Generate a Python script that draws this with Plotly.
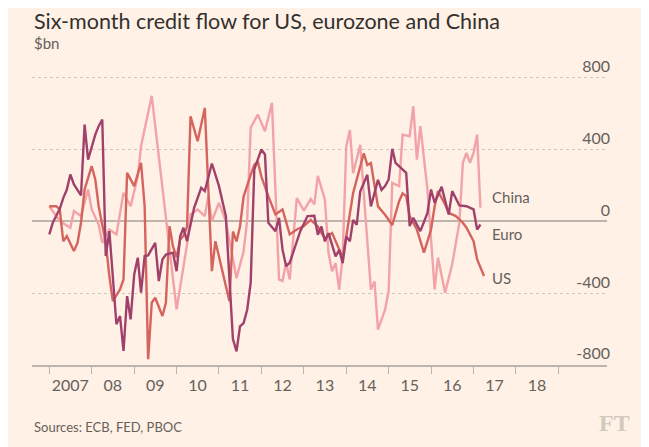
import plotly.graph_objects as go

# Six-month credit flow, $bn
euro_dates = ["2007-01", "2007-02", "2007-03", "2007-04", "2007-05", "2007-06", "2007-07", "2007-08", "2007-10", "2007-11",
              "2007-12", "2008-02", "2008-03", "2008-04", "2008-05", "2008-06", "2008-08", "2008-09", "2008-10", "2008-11",
              "2008-12", "2009-01", "2009-02", "2009-03", "2009-04", "2009-05", "2009-07", "2009-08", "2009-09", "2009-10",
              "2009-12", "2010-01", "2010-02", "2010-03", "2010-04", "2010-06", "2010-08", "2010-09", "2010-11", "2011-01",
              "2011-03", "2011-05", "2011-06", "2011-07", "2011-08", "2011-09", "2011-10", "2011-11", "2011-12", "2012-01",
              "2012-02", "2012-03", "2012-05", "2012-06", "2012-07", "2012-08", "2012-09", "2012-11", "2012-12", "2013-02",
              "2013-04", "2013-05", "2013-06", "2013-07", "2013-08", "2013-10", "2013-11", "2013-12", "2014-01", "2014-02",
              "2014-03", "2014-04", "2014-05", "2014-07", "2014-08", "2014-09", "2014-10", "2014-11", "2014-12", "2015-01",
              "2015-02", "2015-03", "2015-06", "2015-07", "2015-08", "2015-10", "2015-12", "2016-01", "2016-02", "2016-04",
              "2016-06", "2016-07", "2016-09", "2016-11", "2017-01", "2017-02", "2017-03"]
euro_vals = [-72, -5, 30, 70, 130, 178, 262, 206, 145, 540,
             345, 484, 531, 568, -193, -54, -573, -527, -722, -416,
             -546, -295, -202, -397, -193, -189, -119, -332, -212, -184,
             -174, -277, -82, -35, -110, 76, 187, 169, 323, 197,
             30, -655, -724, -585, -566, -492, -341, 290, 345, 401,
             373, -7, -54, 20, -156, -249, -230, -119, -54, 30,
             32, -74, -28, -111, -65, -195, -158, -232, -84, -111,
             9, -19, 167, 260, 84, 158, 232, 176, 197, 234,
             405, 327, 271, -26, 20, -54, 48, 178, 104, 193,
             39, 169, 89, 85, 67, -45, -17]

us_dates = ["2007-01", "2007-03", "2007-04", "2007-05", "2007-06", "2007-08", "2007-09", "2007-10", "2007-11", "2008-01",
            "2008-02", "2008-03", "2008-05", "2008-06", "2008-07", "2008-09", "2008-10", "2008-11", "2009-01", "2009-03",
            "2009-04", "2009-05", "2009-06", "2009-07", "2009-09", "2009-10", "2009-11", "2009-12", "2010-01", "2010-02",
            "2010-03", "2010-04", "2010-05", "2010-07", "2010-09", "2010-11", "2010-12", "2011-04", "2011-05", "2011-06",
            "2011-07", "2011-08", "2011-10", "2011-11", "2011-12", "2012-01", "2012-03", "2012-05", "2012-07", "2012-08",
            "2012-09", "2012-11", "2013-01", "2013-03", "2013-05", "2013-06", "2013-07", "2013-09", "2013-11", "2013-12",
            "2014-01", "2014-03", "2014-05", "2014-06", "2014-07", "2014-08", "2014-10", "2014-12", "2015-02", "2015-04",
            "2015-05", "2015-06", "2015-07", "2015-09", "2015-11", "2016-01", "2016-02", "2016-03", "2016-05", "2016-06",
            "2016-08", "2016-10", "2016-11", "2017-01", "2017-02", "2017-04"]
us_vals = [85, 85, 67, -110, -82, -165, -119, -7, 178, 308,
           234, 85, -119, -304, -444, -379, -323, 271, 197, 327,
           85, -768, -453, -425, -527, -453, -26, -139, -200, -100,
           -80, -30, 586, 447, 633, -277, -110, -445, -56, -111,
           -28, 139, 260, 315, 334, 250, 141, 39, 67, -7,
           -72, -45, -26, 9, -28, -65, -93, -65, -150, -200,
           -84, 158, 306, 380, 315, 325, 84, 37, -20, 113,
           156, 141, 30, -45, -174, -45, 85, 169, 95, 48,
           30, -7, -35, -110, -212, -304]

china_dates = ["2007-01", "2007-02", "2007-04", "2007-07", "2007-08", "2007-10", "2007-12", "2008-01", "2008-03", "2008-04",
               "2008-06", "2008-08", "2008-10", "2008-12", "2009-02", "2009-03", "2009-06", "2010-01", "2010-04", "2010-05",
               "2010-07", "2010-09", "2010-10", "2010-11", "2011-01", "2011-03", "2011-06", "2011-08", "2011-09", "2011-10",
               "2011-12", "2012-02", "2012-04", "2012-06", "2012-07", "2012-08", "2012-09", "2012-11", "2013-01", "2013-03",
               "2013-04", "2013-05", "2013-07", "2013-08", "2013-09", "2013-10", "2013-11", "2013-12", "2014-01", "2014-02",
               "2014-03", "2014-05", "2014-06", "2014-08", "2014-09", "2014-10", "2014-12", "2015-01", "2015-02", "2015-04",
               "2015-05", "2015-07", "2015-08", "2015-09", "2015-10", "2015-12", "2016-02", "2016-03", "2016-05", "2016-07",
               "2016-09", "2016-10", "2016-11", "2016-12", "2017-01", "2017-02", "2017-03"]
china_vals = [85, 58, 2, -35, 58, 30, 178, 67, -17, -119,
              -45, -72, 160, 85, 252, 420, 700, -490, -128, 39,
              67, 30, 141, 2, 104, 2, -316, -167, 9, 522,
              596, 503, 661, -323, -332, -230, -323, 130, 60, 125,
              95, 254, 121, -176, -278, -232, -380, -195, 418, 510,
              269, 427, 139, -380, -334, -603, -492, -388, 215, 197,
              484, 475, 642, 345, 531, 178, -379, -202, -397, -239,
              -7, 327, 382, 327, 382, 484, 76]

year_starts = [f"{y}-01-01" for y in range(2007, 2020)]
year_mids = [f"{y}-07-01" for y in range(2007, 2019)]
year_labels = ["2007", "08", "09", "10", "11", "12", "13", "14", "15", "16", "17", "18"]
y_ticks = [-800, -400, 0, 400, 800]
y_labels = ["-800", "-400", "0", "400", "800"]

BG = "#fff1e5"
GREY = "#66605c"
AXIS = "#bdb5ad"
FONT = "Lato"

fig = go.Figure()
fig.add_trace(go.Scatter(x=china_dates, y=china_vals, mode="lines", name="China",
                         line=dict(color="#f2a3a9", width=2.4)))
fig.add_trace(go.Scatter(x=us_dates, y=us_vals, mode="lines", name="US",
                         line=dict(color="#d5645f", width=2.4)))
fig.add_trace(go.Scatter(x=euro_dates, y=euro_vals, mode="lines", name="Euro",
                         line=dict(color="#a0416c", width=2.4)))

# line labels at the right end
for txt, yv in [("China", 139), ("Euro", -68), ("US", -315)]:
    fig.add_annotation(x="2017-05-20", y=yv, xref="x", yref="y", text=txt, showarrow=False,
                       xanchor="left", yanchor="middle", font=dict(family=FONT, size=15, color=GREY))

fig.add_annotation(x=0, y=1.0955, xref="paper", yref="paper", xanchor="left", yanchor="middle",
                   text="Six-month credit flow for US, eurozone and China", showarrow=False,
                   font=dict(family=FONT, size=21.5, color="#33302e"))
fig.add_annotation(x=0, y=1.0255, xref="paper", yref="paper", xanchor="left", yanchor="middle",
                   text="$bn", showarrow=False, font=dict(family=FONT, size=15, color=GREY))
fig.add_annotation(x=0, y=-0.199, xref="paper", yref="paper", xanchor="left", yanchor="middle",
                   text="Sources: ECB, FED, PBOC", showarrow=False, font=dict(family=FONT, size=13, color=GREY))
fig.add_annotation(x=1.0435, y=-0.1847, xref="paper", yref="paper", xanchor="right", yanchor="middle",
                   text="<b>FT</b>", showarrow=False,
                   font=dict(family="Liberation Serif", size=24, color="#d3c9bf"))

fig.update_layout(
    width=649, height=447,
    paper_bgcolor=BG, plot_bgcolor=BG,
    margin=dict(l=24, r=50, t=43, b=90),
    showlegend=False,
    xaxis=dict(
        type="date", range=["2006-08-05", "2020-02-24"],
        tickmode="array", tickvals=year_mids, ticktext=year_labels,
        ticks="outside", ticklen=5, tickcolor="rgba(0,0,0,0)",
        showgrid=False, zeroline=False,
        showline=True, linecolor=AXIS, linewidth=1.5,
        tickfont=dict(family=FONT, size=16, color=GREY),
        minor=dict(tickmode="array", tickvals=year_starts, ticks="outside", ticklen=7,
                   tickcolor=AXIS, tickwidth=1, showgrid=False),
    ),
    yaxis=dict(
        range=[-800, 950], side="right",
        tickmode="array", tickvals=y_ticks, ticktext=y_labels,
        ticklabelposition="inside top", ticks="", ticklabelstandoff=-6,
        showgrid=True, gridcolor="#cfc6bd", griddash="dot", gridwidth=1,
        zeroline=True, zerolinecolor=AXIS, zerolinewidth=1.5,
        tickfont=dict(family=FONT, size=16, color=GREY),
    ),
)

fig.write_html("out.html")
